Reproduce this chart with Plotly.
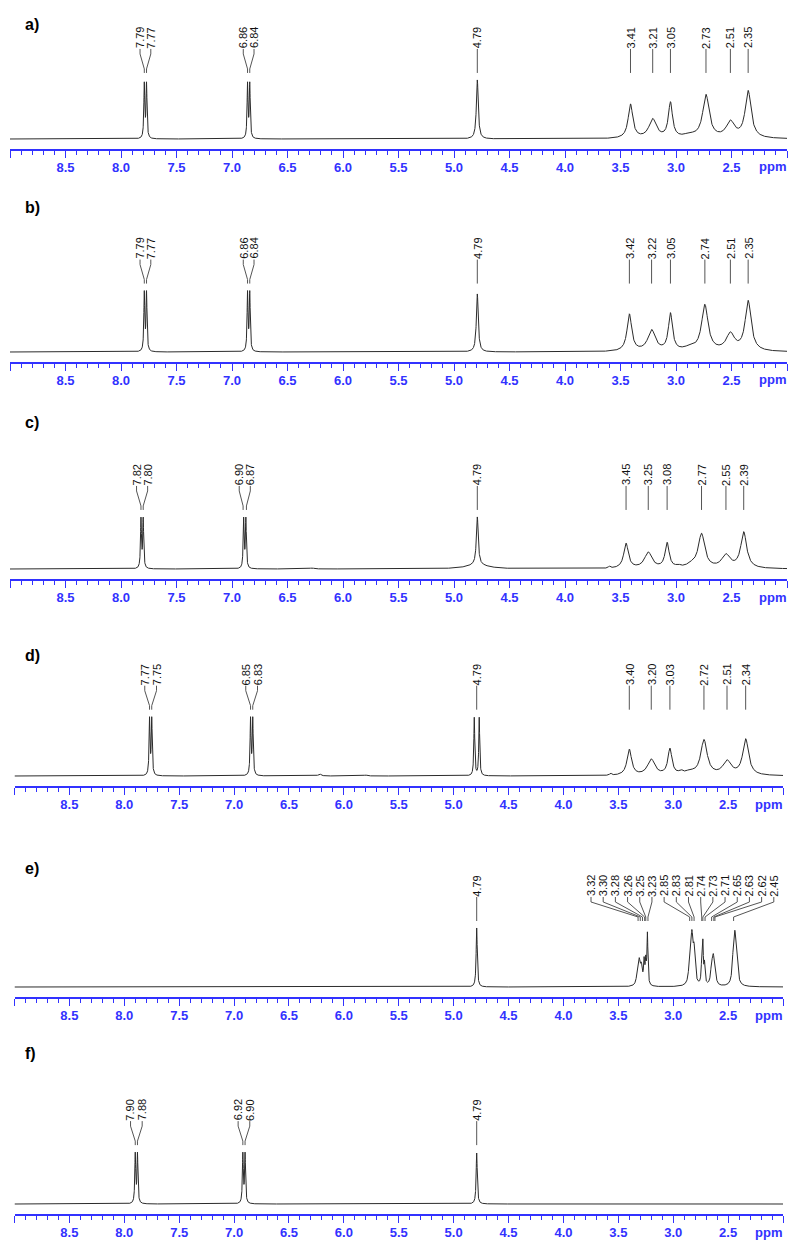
import numpy as np
import plotly.graph_objects as go

W, H = 790, 1240
BLUE = "#3232ff"
INK = "#2b2b2b"

PANEL_NAMES = ["a)", "b)", "c)", "d)", "e)", "f)"]

# ---- peak data (position ppm, height a.u., half width ppm) ----
a_pos = [7.79, 7.77, 6.86, 6.84, 4.79, 3.41, 3.21, 3.05, 2.88, 2.73, 2.51, 2.35]
a_hgt = [54, 54, 54, 54, 59, 34, 19, 35, 3, 43, 16, 47]
a_wid = [0.005, 0.005, 0.005, 0.005, 0.010, 0.025, 0.040, 0.022, 0.06, 0.035, 0.045, 0.032]
a_lab = ["7.79", "7.77", "6.86", "6.84", "4.79", "3.41", "3.21", "3.05", "2.73", "2.51", "2.35"]

b_pos = [7.79, 7.77, 6.86, 6.84, 4.79, 3.42, 3.22, 3.05, 2.88, 2.74, 2.51, 2.35]
b_hgt = [58, 58, 58, 58, 58, 37, 21, 37, 3, 46, 17, 50]
b_wid = [0.005, 0.005, 0.005, 0.005, 0.010, 0.025, 0.040, 0.022, 0.06, 0.035, 0.045, 0.032]
b_lab = ["7.79", "7.77", "6.86", "6.84", "4.79", "3.42", "3.22", "3.05", "2.74", "2.51", "2.35"]

c_pos = [7.82, 7.80, 6.895, 6.875, 6.28, 4.79, 4.79, 3.60, 3.45, 3.25, 3.08, 2.98, 2.86, 2.77, 2.55, 2.39]
c_hgt = [49, 49, 49, 49, 1, 48, 4, 2, 25, 16, 25, 2, 3, 34, 13, 36]
c_wid = [0.005, 0.005, 0.005, 0.005, 0.02, 0.010, 0.12, 0.01, 0.025, 0.040, 0.022, 0.02, 0.05, 0.035, 0.045, 0.032]
c_lab = ["7.82", "7.80", "6.90", "6.87", "4.79", "3.45", "3.25", "3.08", "2.77", "2.55", "2.39"]

d_pos = [7.77, 7.75, 6.85, 6.83, 6.22, 5.80, 4.812, 4.767, 3.57, 3.40, 3.20, 3.03, 2.93, 2.85, 2.72, 2.51, 2.34]
d_hgt = [56, 56, 56, 56, 2, 1, 58, 58, 2, 26, 16, 26, 3, 3, 35, 14, 36]
d_wid = [0.005, 0.005, 0.005, 0.005, 0.015, 0.015, 0.005, 0.005, 0.01, 0.025, 0.040, 0.022, 0.02, 0.05, 0.035, 0.045, 0.032]
d_lab = ["7.77", "7.75", "6.85", "6.83", "4.79", "3.40", "3.20", "3.03", "2.72", "2.51", "2.34"]

e_pos = [4.79, 3.33, 3.31, 3.29, 3.265, 3.25, 3.235, 2.85, 2.83, 2.81, 2.74, 2.73, 2.715, 2.65, 2.635, 2.62, 2.455, 2.44, 2.425]
e_hgt = [59, 6, 24, 16, 22, 22, 50, 20, 47, 30, 20, 38, 20, 18, 23, 13, 17, 41, 26]
e_wid = [0.006, 0.01, 0.012, 0.01, 0.006, 0.006, 0.005, 0.01, 0.012, 0.01, 0.006, 0.005, 0.006, 0.01, 0.01, 0.01, 0.01, 0.012, 0.012]
e_lab = ["4.79", "3.32", "3.30", "3.28", "3.26", "3.25", "3.23", "2.85", "2.83", "2.81",
         "2.74", "2.73", "2.71", "2.65", "2.63", "2.62", "2.45"]

f_pos = [7.90, 7.88, 6.92, 6.90, 4.79]
f_hgt = [49, 49, 49, 49, 51]
f_wid = [0.005, 0.005, 0.005, 0.005, 0.006]
f_lab = ["7.90", "7.88", "6.92", "6.90", "4.79"]

PEAKS = [(a_pos, a_hgt, a_wid, a_lab), (b_pos, b_hgt, b_wid, b_lab), (c_pos, c_hgt, c_wid, c_lab),
         (d_pos, d_hgt, d_wid, d_lab), (e_pos, e_hgt, e_wid, e_lab), (f_pos, f_hgt, f_wid, f_lab)]

TICK_LABELS = ["8.5", "8.0", "7.5", "7.0", "6.5", "6.0", "5.5", "5.0", "4.5", "4.0", "3.5", "3.0", "2.5"]
PPM_MAX, PPM_MIN = 9.0, 2.0

# ---- layout (pixels) ----
AXIS_PX = [149, 362, 579, 786, 997, 1214]
NAME_PX = [24, 207, 423, 655, 868, 1053]
XDOM_PX = [(10, 787), (10, 787), (10, 787), (14.5, 783), (14.5, 783), (14.5, 783)]
GAP_PPM = [0.097, 0.097, 0.1, 0.107, 0.111, 0.106]
PLOT_H = 135  # y-range in px units
Y_LOW = -10


def spread(vals, gap):
    clusters = [[v] for v in vals]
    changed = True
    while changed:
        changed = False
        spans = []
        for c in clusters:
            ctr = float(np.mean(c))
            top = ctr + gap * (len(c) - 1) / 2
            spans.append((top, top - gap * (len(c) - 1)))
        for i in range(len(clusters) - 1):
            if spans[i][1] - spans[i + 1][0] < gap - 1e-9:
                clusters[i] = clusters[i] + clusters[i + 1]
                del clusters[i + 1]
                changed = True
                break
    out = []
    for c in clusters:
        ctr = float(np.mean(c))
        top = ctr + gap * (len(c) - 1) / 2
        out += [top - gap * k for k in range(len(c))]
    return out


fig = go.Figure()
layout = dict(width=W, height=H, margin=dict(l=0, r=0, t=0, b=0),
              paper_bgcolor="white", plot_bgcolor="white", showlegend=False)
annotations = []

for i, (pos, hgt, wid, labs) in enumerate(PEAKS):
    n = i + 1
    xa = "xaxis" if n == 1 else f"xaxis{n}"
    ya = "yaxis" if n == 1 else f"yaxis{n}"
    xr = "x" if n == 1 else f"x{n}"
    yr = "y" if n == 1 else f"y{n}"

    # sampling grid: coarse everywhere + dense around each peak
    grid = [np.arange(PPM_MIN, PPM_MAX + 1e-9, 0.002)]
    for p, w in zip(pos, wid):
        grid.append(np.arange(p - 12 * w, p + 12 * w, w / 8))
    x = np.unique(np.round(np.concatenate(grid), 5))
    x = x[(x >= PPM_MIN) & (x <= PPM_MAX)][::-1]
    y = np.zeros_like(x)
    for p, h, w in zip(pos, hgt, wid):
        y += h * w * w / ((x - p) ** 2 + w * w)

    fig.add_trace(go.Scatter(x=np.round(x, 5), y=np.round(y, 3), mode="lines",
                             line=dict(color=INK, width=1), xaxis=xr, yaxis=yr,
                             hoverinfo="skip"))

    # peak labels
    lab_ppm = [float(s) for s in labs]
    order = np.argsort(lab_ppm)[::-1]
    lab_sorted = [labs[k] for k in order]
    peak_sorted = [lab_ppm[k] for k in order]
    txt_ppm = spread(peak_sorted, GAP_PPM[i])
    lb = float(y.max()) + 7
    cx, cy = [], []
    for s, pk, tx in zip(lab_sorted, peak_sorted, txt_ppm):
        if abs(pk - tx) < 1e-6:
            cx += [pk, pk, None]
            cy += [lb, lb + 24, None]
        else:
            cx += [pk, pk, tx, tx, None]
            cy += [lb, lb + 4, lb + 19, lb + 24, None]
        annotations.append(dict(x=tx, y=lb + 24.5, xref=xr, yref=yr, text=s, showarrow=False,
                                textangle=-90, xanchor="center", yanchor="bottom",
                                font=dict(family="Arial", size=11, color="#111111"),
                                borderpad=0, borderwidth=0))
    fig.add_trace(go.Scatter(x=cx, y=cy, mode="lines", line=dict(color="#555555", width=1),
                             xaxis=xr, yaxis=yr, hoverinfo="skip"))

    ax_px = AXIS_PX[i]
    y0 = 1 - ax_px / H
    y1 = 1 - (ax_px - PLOT_H) / H
    x0, x1 = XDOM_PX[i]
    tickvals = [PPM_MAX] + [float(t) for t in TICK_LABELS] + [PPM_MIN]
    ticktext = [""] + TICK_LABELS + [""]
    layout[xa] = dict(domain=[x0 / W, x1 / W], range=[PPM_MAX, PPM_MIN], anchor=yr,
                      showline=True, linecolor=BLUE, linewidth=1.5, mirror=False,
                      ticks="outside", ticklen=7, tickwidth=1, tickcolor=BLUE,
                      tickmode="array", tickvals=tickvals, ticktext=ticktext,
                      tickfont=dict(family="Arial", size=13, color=BLUE, weight="bold"),
                      ticklabelstandoff=-1,
                      showgrid=False, zeroline=False, fixedrange=True,
                      minor=dict(ticks="outside", ticklen=4, tickwidth=1, tickcolor=BLUE,
                                 dtick=0.1, tick0=PPM_MIN, showgrid=False))
    layout[ya] = dict(domain=[y0, y1], range=[Y_LOW, Y_LOW + PLOT_H], anchor=xr,
                      visible=False, fixedrange=True)

    annotations.append(dict(x=(x1 + 1) / W, y=1 - (ax_px + 18) / H, xref="paper", yref="paper",
                            text="ppm", showarrow=False, xanchor="right", yanchor="middle",
                            font=dict(family="Arial", size=13, color=BLUE, weight="bold")))
    annotations.append(dict(x=23 / W, y=1 - NAME_PX[i] / H, xref="paper", yref="paper",
                            text=PANEL_NAMES[i], showarrow=False, xanchor="left", yanchor="middle",
                            font=dict(family="Arial", size=16, color="black", weight="bold")))

layout["annotations"] = annotations
fig.update_layout(**layout)
fig.write_html("out.html", config={"displayModeBar": False},
               post_script="document.body.style.margin='0';document.body.style.overflow='hidden';")
